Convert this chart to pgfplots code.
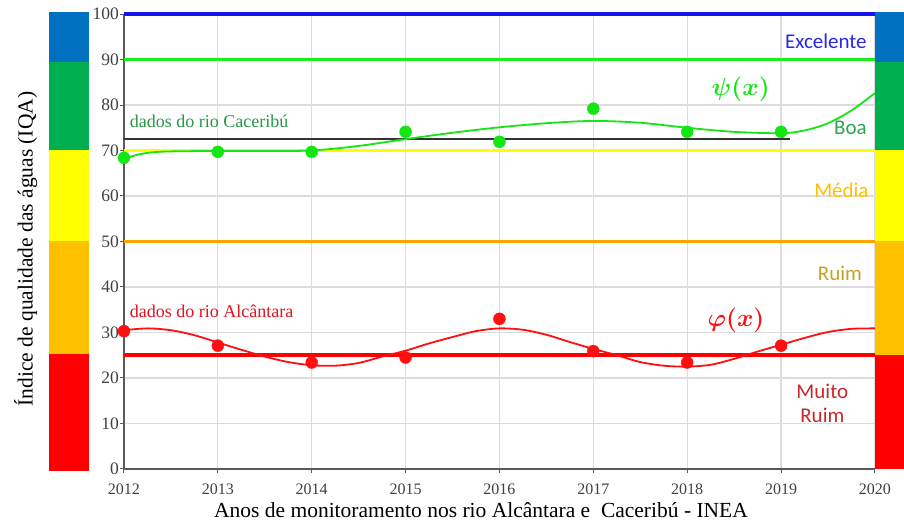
\documentclass[border=0pt]{standalone}
\usepackage{fontspec}
\setmainfont{Liberation Serif}
\newfontfamily\calib{Carlito}
\usepackage{amsmath}
\usepackage{pgfplots}
\pgfplotsset{compat=1.18}
\definecolor{barblue}{RGB}{0,112,192}
\definecolor{bargreen}{RGB}{0,176,80}
\definecolor{baryellow}{RGB}{255,255,0}
\definecolor{barorange}{RGB}{255,192,0}
\definecolor{barred}{RGB}{255,0,0}
\definecolor{lineblue}{RGB}{20,20,235}
\definecolor{linegreen}{RGB}{30,235,30}
\definecolor{lineorange}{RGB}{255,165,0}
\definecolor{gridgray}{RGB}{220,220,220}
\definecolor{tickgray}{RGB}{64,64,64}
\definecolor{axgray}{RGB}{90,90,90}
\definecolor{txtblue}{RGB}{40,40,230}
\definecolor{txtboa}{RGB}{40,165,85}
\definecolor{txtmedia}{RGB}{255,192,0}
\definecolor{txtruim}{RGB}{200,160,40}
\definecolor{txtmuito}{RGB}{200,40,45}
\definecolor{txtcac}{RGB}{40,150,70}
\definecolor{txtalc}{RGB}{220,20,30}
\definecolor{mgreen}{RGB}{20,230,20}
\definecolor{mred}{RGB}{255,15,15}
\begin{document}
\begin{tikzpicture}
\begin{axis}[
  scale only axis, width=751pt, height=455pt,
  xmin=2012, xmax=2020, ymin=0, ymax=100,
  clip=false,
  axis x line*=bottom, axis y line*=left,
  axis line style={draw=axgray, line width=1.5pt},
  xtick={2012,2013,...,2020}, ytick={0,10,...,100},
  grid=major, grid style={draw=gridgray, line width=1.2pt},
  tick align=outside, major tick length=4pt,
  tick style={draw=axgray, line width=1pt},
  /pgf/number format/assume math mode=true,
  /pgf/number format/1000 sep={},
  x tick label style={font=\fontsize{16}{16}\selectfont, text=tickgray, yshift=-7pt},
  y tick label style={font=\fontsize{17.5}{17.5}\selectfont, text=tickgray, xshift=2.5pt},
  xlabel={Anos de monitoramento nos rio Alcântara e\ \ Caceribú - INEA},
  ylabel={Índice de qualidade das águas (IQA)},
  xlabel style={font=\fontsize{21.5}{21.5}\selectfont, at={(rel axis cs:0.4754,-0.1077)}, anchor=base},
  ylabel style={font=\fontsize{21.5}{21.5}\selectfont, at={(rel axis cs:-0.1310,0.4835)}, anchor=center},
]
% bounding box
\path (rel axis cs:-0.1651,-0.1275) rectangle (rel axis cs:1.0386,1.0308);
% left colour bar
\addplot[draw=none, fill=barblue] coordinates {(2011.2,89.5) (2011.63,89.5) (2011.63,100.4) (2011.2,100.4)} -- cycle;
\addplot[draw=none, fill=bargreen] coordinates {(2011.2,70) (2011.63,70) (2011.63,89.5) (2011.2,89.5)} -- cycle;
\addplot[draw=none, fill=baryellow] coordinates {(2011.2,50.2) (2011.63,50.2) (2011.63,70) (2011.2,70)} -- cycle;
\addplot[draw=none, fill=barorange] coordinates {(2011.2,25.2) (2011.63,25.2) (2011.63,50.2) (2011.2,50.2)} -- cycle;
\addplot[draw=none, fill=barred] coordinates {(2011.2,-0.4) (2011.63,-0.4) (2011.63,25.2) (2011.2,25.2)} -- cycle;
% right colour bar
\addplot[draw=none, fill=barblue] coordinates {(2020,89.5) (2020.31,89.5) (2020.31,100.4) (2020,100.4)} -- cycle;
\addplot[draw=none, fill=bargreen] coordinates {(2020,70) (2020.31,70) (2020.31,89.5) (2020,89.5)} -- cycle;
\addplot[draw=none, fill=baryellow] coordinates {(2020,50) (2020.31,50) (2020.31,70) (2020,70)} -- cycle;
\addplot[draw=none, fill=barorange] coordinates {(2020,25) (2020.31,25) (2020.31,50) (2020,50)} -- cycle;
\addplot[draw=none, fill=barred] coordinates {(2020,0) (2020.31,0) (2020.31,25) (2020,25)} -- cycle;
% class limit lines
\addplot[lineblue, line width=3.5pt] coordinates {(2012,100) (2020,100)};
\addplot[linegreen, line width=3.5pt] coordinates {(2012,90) (2020,90)};
\addplot[baryellow, line width=3.5pt] coordinates {(2012,70) (2020,70)};
\addplot[lineorange, line width=3pt] coordinates {(2012,50) (2020,50)};
\addplot[barred, line width=3.5pt] coordinates {(2012,25) (2020,25)};
% mean line Caceribu
\addplot[black!80, line width=2.4pt] coordinates {(2012,72.5) (2019.1,72.5)};
% psi curve
\addplot[mgreen, line width=1.8pt, smooth] coordinates {
(2012,68.2) (2012.15,69.1) (2012.3,69.6) (2012.5,69.8) (2013,69.9) (2013.5,69.9)
(2014,70.0) (2014.5,71.0) (2015,72.5) (2015.5,73.9) (2016,75.1) (2016.5,76.0)
(2017,76.5) (2017.5,76.1) (2018,75.0) (2018.5,74.1) (2019,73.8) (2019.25,74.4)
(2019.5,76.0) (2019.75,78.8) (2020,82.6)};
% phi curve
\addplot[mred, line width=1.8pt, smooth] coordinates {
(2012,30.5) (2012.25,30.9) (2012.5,30.5) (2012.75,29.4) (2013,27.8) (2013.25,26.2)
(2013.5,24.7) (2013.75,23.5) (2014,22.8) (2014.25,22.7) (2014.5,23.3) (2014.75,24.7)
(2015,26.0) (2015.25,27.6) (2015.5,29.0) (2015.75,30.3) (2016,30.9) (2016.25,30.6)
(2016.5,29.5) (2016.75,27.9) (2017,26.4) (2017.25,25.0) (2017.5,23.5) (2017.75,22.7)
(2018,22.5) (2018.25,22.9) (2018.5,24.2) (2018.75,25.8) (2019,27.3) (2019.25,28.8)
(2019.5,30.1) (2019.75,30.8) (2020,30.9)};
% data points
\addplot[only marks, mark=*, mark size=6pt, mgreen] coordinates {
(2012,68.4) (2013,69.7) (2014,69.7) (2015,74.1) (2016,71.9) (2017,79.2) (2018,74.1) (2019,74.1)};
\addplot[only marks, mark=*, mark size=6pt, mred] coordinates {
(2012,30.3) (2013,27.1) (2014,23.4) (2015,24.5) (2016,33.0) (2017,25.9) (2018,23.4) (2019,27.1)};
% labels
\node[anchor=east, text=txtblue, font=\calib\fontsize{21}{21}\selectfont] at (axis cs:2019.95,94.1) {Excelente};
\node[text=mgreen, font=\fontsize{24}{24}\selectfont] at (axis cs:2018.57,83.5) {$\boldsymbol{\psi(x)}$};
\node[anchor=east, text=txtboa, font=\calib\fontsize{21}{21}\selectfont] at (axis cs:2019.95,74.9) {Boa};
\node[anchor=east, text=txtmedia, font=\calib\fontsize{21}{21}\selectfont] at (axis cs:2019.97,61.3) {Média};
\node[anchor=east, text=txtruim, font=\calib\fontsize{21}{21}\selectfont] at (axis cs:2019.9,43.1) {Ruim};
\node[text=mred, font=\fontsize{24}{24}\selectfont] at (axis cs:2018.52,32.7) {$\boldsymbol{\varphi(x)}$};
\node[align=center, text=txtmuito, font=\calib\fontsize{21}{23.5}\selectfont] at (axis cs:2019.44,14.4) {Muito\\Ruim};
\node[anchor=base west, inner sep=0pt, text=txtcac, font=\fontsize{18}{18}\selectfont] at (axis cs:2012.06,75) {dados do rio Caceribú};
\node[anchor=base west, inner sep=0pt, text=txtalc, font=\fontsize{18}{18}\selectfont] at (axis cs:2012.06,33.4) {dados do rio Alcântara};
\end{axis}
\end{tikzpicture}
\end{document}
